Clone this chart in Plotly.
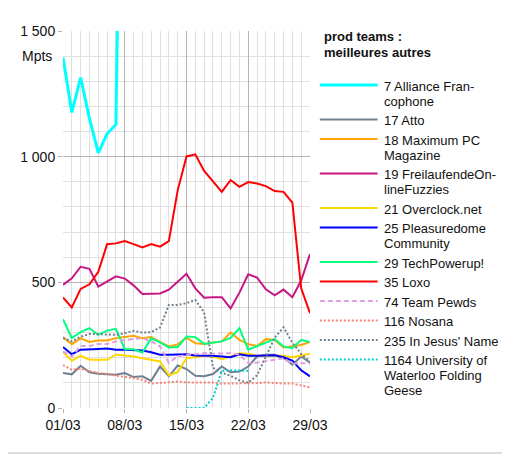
import pandas as pd
import plotly.graph_objects as go

days = pd.date_range("2020-03-01", periods=29, freq="D")

alliance_fr = [1395, 1176, 1315, 1151, 1015, 1091, 1128, 3500]
atto = [139, 134, 168, 142, 136, 135, 132, 139, 123, 126, 108, 165, 126, 169, 155,
        128, 126, 135, 165, 142, 145, 165, 205, 212, 212, 200, 172, 205, 180]
max_pc = [282, 254, 277, 263, 269, 269, 278, 282, 287, 278, 282, 263, 245, 253, 280,
          258, 255, 261, 265, 300, 271, 254, 247, 274, 271, 241, 245, 251, 263]
fuzzies = [490, 516, 562, 554, 483, 504, 524, 515, 488, 454, 456, 456, 471, 501, 534,
           476, 439, 441, 441, 396, 459, 532, 519, 472, 448, 471, 441, 507, 612]
overclock = [222, 188, 208, 192, 192, 192, 213, 210, 205, 198, 192, 185, 130, 143, 198,
             202, 208, 205, 194, 205, 218, 216, 208, 208, 208, 208, 202, 209, 216]
pleasuredome = [243, 214, 232, 232, 235, 237, 232, 232, 232, 229, 222, 212, 212, 212, 214,
                209, 209, 208, 205, 202, 214, 208, 208, 210, 210, 202, 189, 150, 126]
techpowerup = [353, 278, 302, 318, 291, 308, 315, 234, 234, 221, 277, 261, 241, 243, 284,
               282, 255, 261, 265, 279, 318, 232, 245, 258, 274, 245, 238, 271, 262]
loxo = [440, 400, 474, 492, 542, 652, 655, 664, 652, 639, 652, 642, 664, 866, 1001,
        1009, 943, 900, 860, 907, 880, 899, 893, 883, 863, 860, 817, 476, 377]
pewds = [225, 205, 247, 247, 255, 255, 265, 271, 275, 278, 265, 245, 180, 205, 212,
         214, 218, 216, 216, 218, 212, 179, 181, 185, 192, 198, 176, 179, 176]
nosana = [171, 152, 156, 146, 139, 136, 128, 123, 119, 112, 97, 99, 103, 105, 102,
          102, 102, 101, 97, 97, 97, 97, 99, 102, 99, 97, 97, 91, 82]
jesus_name = [278, 265, 284, 294, 294, 291, 291, 298, 307, 300, 302, 320, 410, 410, 417,
              430, 380, 160, 140, 128, 110, 100, 130, 205, 280, 321, 260, 215, 185]
waterloo = [None] * 14 + [0, 0, 0, 40, 148, 150, 150, 148]

DASH = "5px,3px"
DOT = "2px,2px"
series = [
    ("7 Alliance Fran-<br>cophone", alliance_fr, "#00ffff", "solid", 3),
    ("17 Atto", atto, "#708090", "solid", 2),
    ("18 Maximum PC<br>Magazine", max_pc, "#ffa500", "solid", 2),
    ("19 FreilaufendeOn-<br>lineFuzzies", fuzzies, "#c71585", "solid", 2),
    ("21 Overclock.net", overclock, "#ffd700", "solid", 2),
    ("25 Pleasuredome<br>Community", pleasuredome, "#0000ff", "solid", 2),
    ("29 TechPowerup!", techpowerup, "#00ff7f", "solid", 2),
    ("35 Loxo", loxo, "#ff0000", "solid", 2),
    ("74 Team Pewds", pewds, "#dda0dd", DASH, 2),
    ("116 Nosana", nosana, "#fa8072", DOT, 2),
    ("235 In Jesus' Name", jesus_name, "#708090", DOT, 2),
    ("1164 University of<br>Waterloo Folding<br>Geese", waterloo, "#00ced1", DOT, 2),
]

# the page body has an 8px margin, so the figure is drawn 8px in from the corner
OFF = 8
W, H = 510 - OFF, 454 - OFF
L, R, T, B = 58 - OFF, 510 - 310, 31 - OFF, 454 - 408
pw, ph = W - L - R, H - T - B


def px(x):
    return (x - OFF - L) / pw


def py(y):
    return (H - B - (y - OFF)) / ph


fig = go.Figure()
shapes = []
annotations = []

row_y = 85
for name, vals, color, dash, width in series:
    fig.add_trace(go.Scatter(
        x=days[:len(vals)], y=vals, mode="lines", name=name.replace("<br>", ""),
        line=dict(color=color, width=width, dash=dash),
        showlegend=False, connectgaps=False
    ))
    shapes.append(dict(type="line", xref="paper", yref="paper",
                       x0=px(320), x1=px(379), y0=py(row_y), y1=py(row_y),
                       line=dict(color=color, width=width, dash=dash)))
    for i, part in enumerate(name.split("<br>")):
        annotations.append(dict(
            text=part, xref="paper", yref="paper", x=px(383), y=py(row_y + 1 + i * 15),
            xanchor="left", yanchor="middle", showarrow=False,
            font=dict(size=13, color="#111")
        ))
    row_y += 19.5 + 15 * (len(name.split("<br>")) - 1)

for i, part in enumerate(["prod teams :", "meilleures autres"]):
    annotations.append(dict(
        text="<b>" + part + "</b>", xref="paper", yref="paper", x=px(322), y=py(37 + i * 15),
        xanchor="left", yanchor="middle", showarrow=False, font=dict(size=13, color="#111")
    ))

annotations.append(dict(
    text="Mpts", xref="paper", yref="paper", x=px(31), y=py(56),
    xanchor="center", yanchor="middle", showarrow=False, font=dict(size=14, color="#111")
))

shapes.append(dict(type="rect", xref="paper", yref="paper",
                   x0=px(0.5), x1=px(509), y0=py(453), y1=py(0.5),
                   line=dict(color="#bbbbbb", width=1), layer="below"))

fig.update_layout(
    width=W, height=H,
    margin=dict(l=L, r=R, t=T, b=B),
    paper_bgcolor="white", plot_bgcolor="white",
    font=dict(family="Liberation Sans, Arial, sans-serif", size=14, color="#111"),
    showlegend=False,
    shapes=shapes, annotations=annotations,
    xaxis=dict(
        type="date", range=[days[0], days[-1]],
        tick0=days[0], dtick=7 * 86400000, tickformat="%d/%m",
        showgrid=True, gridcolor="#b4b4b4", gridwidth=1,
        ticks="outside", ticklen=4, tickcolor="#b4b4b4",
        minor=dict(dtick=86400000, showgrid=True, gridcolor="#e0e0e0"),
        zeroline=False, showline=False,
    ),
    yaxis=dict(
        range=[0, 1500], tickvals=[0, 500, 1000, 1500],
        ticktext=["0", "500", "1 000", "1 500"],
        showgrid=True, gridcolor="#b4b4b4", gridwidth=1,
        ticks="outside", ticklen=4, tickcolor="#b4b4b4",
        minor=dict(dtick=100, showgrid=True, gridcolor="#e0e0e0"),
        zeroline=False, showline=False,
    ),
)

fig.write_html("out.html")
